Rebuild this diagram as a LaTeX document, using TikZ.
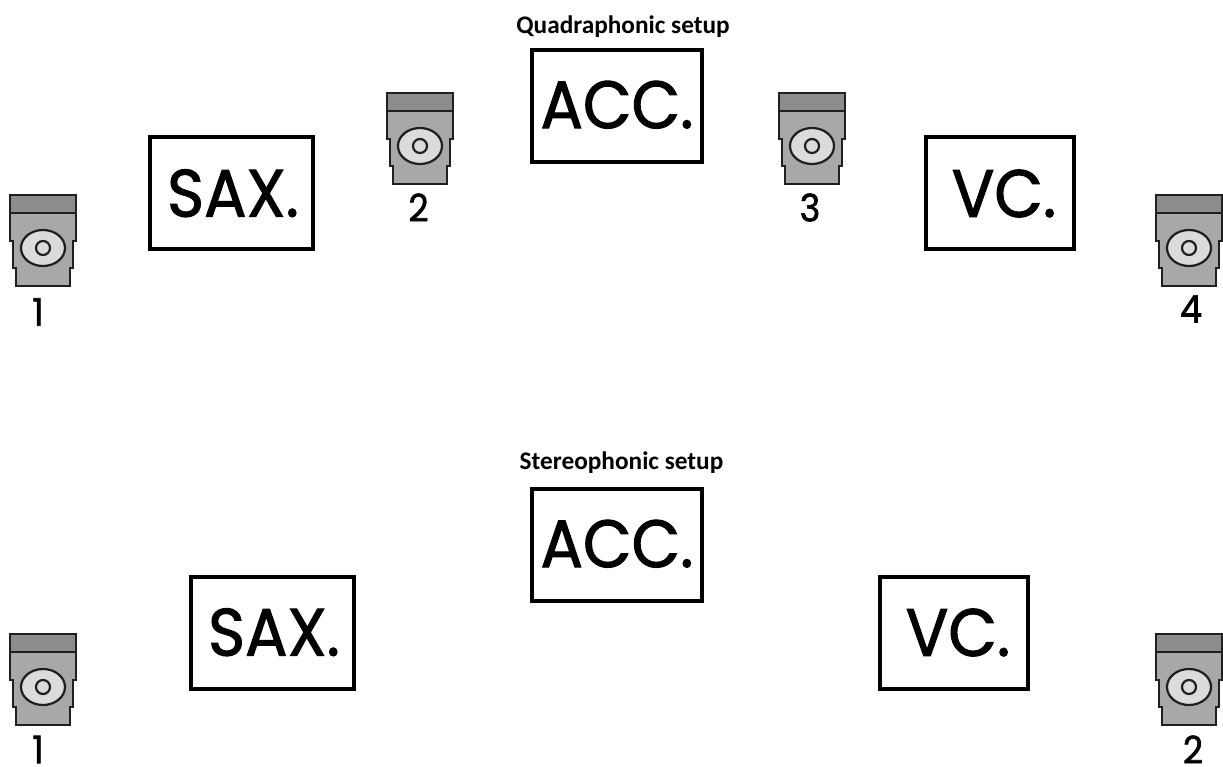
\documentclass[tikz,border=0pt]{standalone}
\usepackage{fontspec}
\setmainfont{Poppins}
\newfontfamily\titlefont{Carlito}
\newfontfamily\labfont[FakeBold=1.5,FakeStretch=0.94]{Poppins}
\newfontfamily\numfont[FakeBold=1.6,FakeStretch=0.92]{Poppins}
\definecolor{micbody}{gray}{0.66}
\definecolor{micband}{gray}{0.55}
\definecolor{miceye}{gray}{0.86}
\definecolor{micline}{gray}{0.12}
\tikzset{
  x=1pt,y=-1pt,
  instr/.style={draw=black,line width=4pt,inner sep=0pt,minimum height=112pt,font=\labfont\fontsize{67}{67}\selectfont,anchor=center},
  saxbox/.style={instr,minimum width=163pt},
  accbox/.style={instr,minimum width=170pt},
  vcbox/.style={instr,minimum width=148pt},
  title/.style={font=\titlefont\bfseries\fontsize{25.3}{27}\selectfont,inner sep=0pt},
  num/.style={font=\numfont\fontsize{38}{38}\selectfont,inner sep=0pt},
  mic/.pic={
    \fill[fill=micbody] (0,18) -- (66,18) -- (66,46) -- (63,46) -- (63,73) -- (60,73) -- (60,91) -- (6,91) -- (6,73) -- (3,73) -- (3,46) -- (0,46) -- cycle;
    \filldraw[fill=micband,draw=micline,line width=2.2pt] (0,0) rectangle (66,18);
    \draw[micline,line width=2.2pt] (0,18) -- (0,46) -- (3,46) -- (3,73) -- (6,73) -- (6,91) -- (60,91) -- (60,73) -- (63,73) -- (63,46) -- (66,46) -- (66,18);
    \filldraw[fill=miceye,draw=micline,line width=2.2pt] (33,53) ellipse [x radius=22pt,y radius=18pt];
    \draw[micline,line width=2.2pt,fill=miceye] (33,53) circle [radius=7pt];
  }
}
\begin{document}
\begin{tikzpicture}
\useasboundingbox (0,0) rectangle (1223,767);
\node[title] (t1) at (623,27) {Quadraphonic setup};
\node[saxbox] (sax1) at (231.5,193.5) {\hspace*{3pt}\raisebox{1pt}{SAX.}};
\node[accbox] (acc1) at (617,106) {\raisebox{3pt}{ACC.}};
\node[vcbox] (vc1) at (1000,193.5) {\hspace*{8pt}VC.};
\pic at (10,195) {mic};
\pic at (387,93) {mic};
\pic at (779,93) {mic};
\pic at (1156,195) {mic};
\node[num] (n1) at (38,312) {1};
\node[num] (n2) at (418.5,207.5) {2};
\node[num] (n3) at (810,207.5) {3};
\node[num] (n4) at (1191,309) {4};
\node[title] (t2) at (621.5,463) {Stereophonic setup};
\node[accbox] (acc2) at (617,545) {\raisebox{3pt}{ACC.}};
\node[saxbox] (sax2) at (272.5,632.5) {\hspace*{3pt}\raisebox{1pt}{SAX.}};
\node[vcbox] (vc2) at (954,632.5) {\hspace*{8pt}VC.};
\pic at (10,634) {mic};
\pic at (1156,634) {mic};
\node[num] (n5) at (38,749.5) {1};
\node[num] (n6) at (1193,749.5) {2};
\end{tikzpicture}
\end{document}
